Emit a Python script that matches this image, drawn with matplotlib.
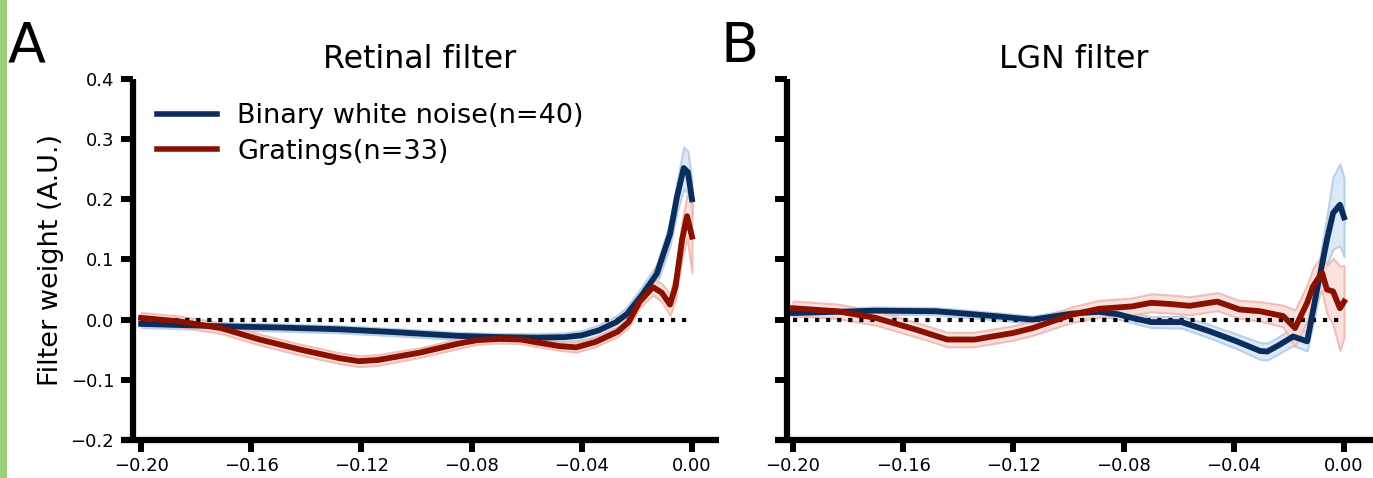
import matplotlib
matplotlib.use("Agg")
import matplotlib.pyplot as plt
from matplotlib.patches import Rectangle
import numpy as np

# Retinal filter, binary white noise
ret_bwn_t = [-0.200, -0.185, -0.171, -0.150, -0.128, -0.107, -0.085, -0.070, -0.056, -0.046,
             -0.040, -0.034, -0.0275, -0.0235, -0.018, -0.0128, -0.008, -0.0055, -0.003, -0.0015, 0.0]
ret_bwn = [-0.007, -0.009, -0.011, -0.013, -0.016, -0.021, -0.027, -0.029, -0.030, -0.029,
           -0.026, -0.018, -0.004, 0.010, 0.042, 0.076, 0.142, 0.203, 0.252, 0.245, 0.200]
ret_bwn_err = [0.006, 0.006, 0.006, 0.006, 0.006, 0.006, 0.006, 0.006, 0.007, 0.007,
               0.008, 0.009, 0.010, 0.012, 0.014, 0.016, 0.020, 0.025, 0.035, 0.035, 0.030]

# Retinal filter, gratings
ret_gr_t = [-0.200, -0.186, -0.171, -0.157, -0.142, -0.128, -0.121, -0.114, -0.099, -0.085,
            -0.078, -0.070, -0.062, -0.056, -0.048, -0.042, -0.035, -0.027, -0.023, -0.019,
            -0.0142, -0.011, -0.008, -0.006, -0.0036, -0.0018, 0.0]
ret_gr = [0.003, -0.003, -0.014, -0.033, -0.050, -0.064, -0.069, -0.067, -0.055, -0.040,
          -0.034, -0.032, -0.033, -0.038, -0.044, -0.046, -0.037, -0.020, -0.004, 0.030,
          0.054, 0.045, 0.025, 0.055, 0.133, 0.172, 0.138]
ret_gr_err = [0.009, 0.009, 0.009, 0.009, 0.009, 0.009, 0.009, 0.009, 0.008, 0.008,
              0.007, 0.007, 0.007, 0.007, 0.007, 0.008, 0.008, 0.008, 0.009, 0.010,
              0.013, 0.015, 0.018, 0.022, 0.030, 0.035, 0.060]

# LGN filter, binary white noise
lgn_bwn_t = [-0.200, -0.185, -0.170, -0.148, -0.127, -0.113, -0.099, -0.089, -0.082, -0.077,
             -0.070, -0.059, -0.049, -0.039, -0.0305, -0.0279, -0.0235, -0.0185, -0.0134,
             -0.0098, -0.0062, -0.004, -0.0015, 0.0]
lgn_bwn = [0.011, 0.013, 0.015, 0.014, 0.006, 0.000, 0.010, 0.013, 0.009, 0.003,
           -0.004, -0.004, -0.019, -0.036, -0.052, -0.053, -0.042, -0.028, -0.036,
           0.050, 0.133, 0.177, 0.191, 0.170]
lgn_bwn_err = [0.006, 0.006, 0.006, 0.006, 0.006, 0.006, 0.007, 0.007, 0.008, 0.008,
               0.009, 0.010, 0.011, 0.012, 0.014, 0.014, 0.014, 0.015, 0.016,
               0.025, 0.040, 0.060, 0.068, 0.065]

# LGN filter, gratings
lgn_gr_t = [-0.200, -0.184, -0.170, -0.155, -0.144, -0.134, -0.120, -0.113, -0.099, -0.089,
            -0.077, -0.070, -0.063, -0.056, -0.046, -0.038, -0.0305, -0.0221, -0.0178, -0.0134,
            -0.0113, -0.008, -0.0062, -0.004, -0.0015, 0.0]
lgn_gr = [0.019, 0.014, 0.003, -0.017, -0.033, -0.033, -0.022, -0.014, 0.008, 0.018,
          0.022, 0.028, 0.026, 0.023, 0.030, 0.017, 0.014, 0.006, -0.014, 0.028,
          0.055, 0.078, 0.050, 0.047, 0.019, 0.030]
lgn_gr_err = [0.012, 0.012, 0.012, 0.012, 0.012, 0.012, 0.012, 0.012, 0.013, 0.014,
              0.014, 0.015, 0.015, 0.015, 0.015, 0.015, 0.016, 0.018, 0.030, 0.030,
              0.030, 0.030, 0.040, 0.055, 0.070, 0.060]

titles = ["Retinal filter", "LGN filter"]
panel_letters = ["A", "B"]
legend_labels = ["Binary white noise(n=40)", "Gratings(n=33)"]
xticks = [-0.20, -0.16, -0.12, -0.08, -0.04, 0.00]
yticks = [-0.2, -0.1, 0.0, 0.1, 0.2, 0.3, 0.4]

BLUE = "#0b2d5b"
RED = "#8a1000"
BLUE_FILL = "#dbe8f8"
BLUE_EDGE = "#b9d0ea"
RED_FILL = "#fbdcd7"
RED_EDGE = "#f0b5ad"

W, H = 1373, 478
fig = plt.figure(figsize=(W / 100, H / 100), dpi=100)
fig.patches.append(Rectangle((0, 0), 7 / W, 1, transform=fig.transFigure,
                             facecolor="#9ad07a", edgecolor="none"))

axes = [fig.add_axes([121 / W, 38 / H, 598 / W, 361 / H]),
        fig.add_axes([775 / W, 38 / H, 598 / W, 361 / H])]

data = [
    (ret_bwn_t, ret_bwn, ret_bwn_err, ret_gr_t, ret_gr, ret_gr_err),
    (lgn_bwn_t, lgn_bwn, lgn_bwn_err, lgn_gr_t, lgn_gr, lgn_gr_err),
]
xlims = [(-0.2073, 0.0098), (-0.2065, 0.0105)]

for i, ax in enumerate(axes):
    bt, b, be, gt, g, ge = [np.asarray(a) for a in data[i]]
    ax.fill_between(bt, b - be, b + be, facecolor=BLUE_FILL, edgecolor=BLUE_EDGE,
                    linewidth=1.5, zorder=1)
    ax.fill_between(gt, g - ge, g + ge, facecolor=RED_FILL, edgecolor=RED_EDGE,
                    linewidth=1.5, alpha=0.85, zorder=1.1)
    ax.plot([-0.2, 0.0], [0, 0], color="black", linestyle=":", linewidth=3, zorder=2)
    ax.plot(bt, b, color=BLUE, linewidth=4.2, solid_joinstyle="round", zorder=3,
            label=legend_labels[0])
    ax.plot(gt, g, color=RED, linewidth=4.2, solid_joinstyle="round", zorder=3,
            label=legend_labels[1])

    ax.set_xlim(*xlims[i])
    ax.set_ylim(-0.2, 0.4)
    ax.set_xticks(xticks)
    ax.set_yticks(yticks)
    ax.spines["top"].set_visible(False)
    ax.spines["right"].set_visible(False)
    ax.spines["left"].set_position(("axes", 0.02))
    for s in ["left", "bottom"]:
        ax.spines[s].set_linewidth(4.5)
        ax.spines[s].set_capstyle("butt")
    ax.tick_params(axis="both", length=8.5, width=4.3, labelsize=13)
    ax.tick_params(axis="y", pad=5)
    ax.tick_params(axis="x", pad=3.5)
    ax.set_title(titles[i], fontsize=22.8, pad=8)
    ax.patch.set_alpha(0)

axes[0].set_ylabel("Filter weight (A.U.)", fontsize=19.5, labelpad=5)
axes[1].tick_params(axis="y", labelleft=False)

leg = axes[0].legend(loc="upper left", bbox_to_anchor=(0.02, 1.0), frameon=False,
                     fontsize=19.5, handlelength=2.2, handletextpad=0.75,
                     labelspacing=0.35, borderpad=0.4)
for line in leg.get_lines():
    line.set_linewidth(4)

fig.text(8 / W, 1 - 62 / H, panel_letters[0], fontsize=40, va="baseline", ha="left")
fig.text(720 / W, 1 - 62 / H, panel_letters[1], fontsize=40, va="baseline", ha="left")

fig.savefig("out.png", dpi=100)
